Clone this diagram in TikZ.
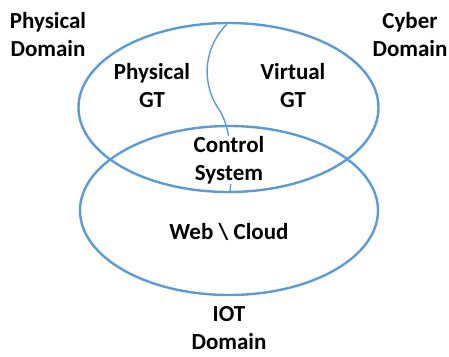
\documentclass[tikz,border=0pt]{standalone}
\usepackage{fontspec}
\setmainfont{Carlito}
\definecolor{venn}{RGB}{91,155,213}

\begin{document}
\begin{tikzpicture}[x=1pt,y=-1pt,ring/.style={draw=venn,line width=2.4pt},txt/.style={font=\fontsize{23}{28}\selectfont\bfseries,align=center,inner sep=0pt}]
    \useasboundingbox (0,0) rectangle (449,356);
    %split between physical and virtual
    \coordinate (wtop) at (228,23);
    \coordinate (wmid) at (218,108);
    \coordinate (wbot) at (230,192);
    \draw [venn,line width=1.4pt] (wtop) .. controls (205,45) and (200,80) .. (wmid) .. controls (228,122) and (234,150) .. (wbot);
    %labels
    \node [txt] (phys) at (48,35) {Physical\\Domain};
    \node [txt] (cyber) at (410,35) {Cyber\\Domain};
    \node [txt] (pgt) at (152,86) {Physical\\GT};
    \node [txt] (vgt) at (293,86) {Virtual\\GT};
    \node [txt,fill=white] (ctrl) at (229,160) {Control\\System};
    \node [txt] (web) at (229,231.5) {Web \textbackslash\ Cloud};
    \node [txt] (iot) at (229,328) {IOT\\Domain};
    %domains
    \draw [ring] (228.5,107.5) ellipse (150 and 84.5);
    \draw [ring] (229,210.5) ellipse (149 and 84.5);
\end{tikzpicture}
\end{document}
